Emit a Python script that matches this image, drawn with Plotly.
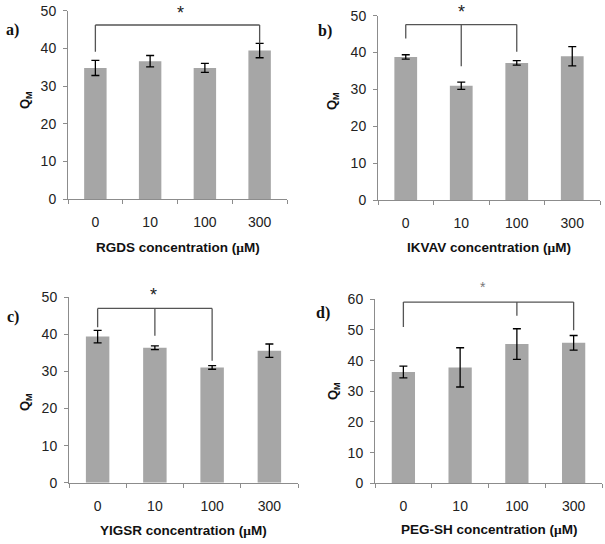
import plotly.graph_objects as go

categories = ["0", "10", "100", "300"]

rgds_mean = [34.8, 36.6, 34.8, 39.4]
rgds_err = [2.0, 1.5, 1.2, 1.9]
ikvav_mean = [38.8, 31.0, 37.2, 39.0]
ikvav_err = [0.6, 1.0, 0.6, 2.6]
yigsr_mean = [39.4, 36.4, 31.1, 35.6]
yigsr_err = [1.7, 0.5, 0.5, 1.8]
pegsh_mean = [36.3, 37.8, 45.4, 45.8]
pegsh_err = [1.9, 6.4, 5.0, 2.4]

x_titles = ["RGDS", "IKVAV", "YIGSR", "PEG-SH"]
panel_labels = ["a)", "b)", "c)", "d)"]
y_max = [50, 50, 50, 60]

# significance brackets: (bar top level, [(category index, leg bottom), ...])
brackets = [
    (46.2, [(0, 39.1), (3, 41.3)]),
    (47.6, [(0, 43.8), (1, 36.3), (2, 40.2)]),
    (47.0, [(0, 41.9), (1, 39.6), (2, 32.9)]),
    (59.1, [(0, 51.0), (2, 54.6), (3, 49.9)]),
]

W, H = 605, 544
# panel pixel boxes: x0, x1, ytop, ybottom
boxes = [
    (68, 287, 10.7, 199),
    (378, 600, 15.7, 200),
    (69, 298, 297.3, 482.7),
    (375, 602, 299.3, 483.3),
]
ytitle_px = [(25, 100), (332, 101), (25, 402), (333, 391)]
label_px = [(12, 30), (325, 31), (13, 317), (323, 313)]
xtitle_py = [247, 247, 530, 529]
star_px = [(180, 13), (461, 12), (154, 295), (483, 287)]

means = [rgds_mean, ikvav_mean, yigsr_mean, pegsh_mean]
errs = [rgds_err, ikvav_err, yigsr_err, pegsh_err]

fig = go.Figure()
bar_color = "#a6a6a6"
axis_color = "#8c8c8c"
tick_font = dict(family="Liberation Sans, Arial", size=14, color="#222")

for i in range(4):
    sfx = "" if i == 0 else str(i + 1)
    fig.add_trace(go.Bar(
        x=categories, y=means[i],
        error_y=dict(type="data", array=errs[i], color="black", thickness=1.3, width=4),
        marker=dict(color=bar_color, line=dict(width=0)),
        xaxis="x" + sfx, yaxis="y" + sfx, showlegend=False, hoverinfo="skip",
    ))
    x0, x1, yt, yb = boxes[i]
    fig.layout["xaxis" + sfx] = dict(
        domain=[x0 / W, x1 / W], anchor="y" + sfx, type="category", automargin=False,
        showline=True, linecolor=axis_color, linewidth=1,
        ticks="outside", tickson="boundaries", ticklen=4, tickcolor=axis_color,
        tickfont=tick_font, ticklabelstandoff=10, showgrid=False, fixedrange=True,
    )
    fig.layout["yaxis" + sfx] = dict(
        domain=[1 - yb / H, 1 - yt / H], anchor="x" + sfx, automargin=False,
        range=[0, y_max[i]], dtick=10, showline=True, linecolor=axis_color, linewidth=1,
        ticks="outside", ticklen=4, tickcolor=axis_color, tickfont=tick_font,
        ticklabelstandoff=4, showgrid=False, zeroline=False, fixedrange=True,
    )
    fig.add_annotation(
        x=(x0 + x1) / 2 / W, y=1 - xtitle_py[i] / H, xref="paper", yref="paper",
        text="<b>" + x_titles[i] + " concentration (<span style='font-family:Liberation Serif'>μ</span>M)</b>",
        showarrow=False, font=dict(family="Liberation Sans, Arial", size=13.5, color="#111"),
        xanchor="center", yanchor="middle",
    )
    tx, ty = ytitle_px[i]
    fig.add_annotation(
        x=tx / W, y=1 - ty / H, xref="paper", yref="paper",
        text="<b>Q<sub>M</sub></b>", textangle=-90, showarrow=False,
        font=dict(family="Liberation Sans, Arial", size=13, color="#111"),
        xanchor="center", yanchor="middle",
    )
    lx, ly = label_px[i]
    fig.add_annotation(
        x=lx / W, y=1 - ly / H, xref="paper", yref="paper",
        text="<b>" + panel_labels[i] + "</b>", showarrow=False,
        font=dict(family="Liberation Serif, Times New Roman", size=16, color="#111"),
        xanchor="center", yanchor="middle",
    )
    top, legs = brackets[i]
    xr, yr = "x" + sfx, "y" + sfx
    fig.add_shape(type="line", xref=xr, yref=yr, x0=legs[0][0], x1=legs[-1][0], y0=top, y1=top,
                  line=dict(color="#555", width=1.3))
    for ci, bot in legs:
        fig.add_shape(type="line", xref=xr, yref=yr, x0=ci, x1=ci, y0=bot, y1=top,
                      line=dict(color="#555", width=1.3))
    sx, sy = star_px[i]
    fig.add_annotation(
        x=sx / W, y=1 - sy / H, xref="paper", yref="paper", text="*", showarrow=False,
        font=dict(family="Liberation Sans, Arial", size=18 if i < 3 else 14,
                  color="#222" if i < 3 else "#777"),
        xanchor="center", yanchor="middle",
    )

fig.update_layout(
    width=W, height=H, margin=dict(l=0, r=0, t=0, b=0, autoexpand=False),
    paper_bgcolor="white", plot_bgcolor="white", bargap=0.59, hovermode=False,
)
pin = ("document.documentElement.style.margin='0';document.body.style.margin='0';"
       "document.documentElement.style.overflow='hidden';document.body.style.overflow='hidden';"
       "var g=document.querySelector('.plotly-graph-div');"
       "g.style.position='fixed';g.style.top='0px';g.style.left='0px';")
fig.write_html("out.html", config={"displayModeBar": False}, post_script=pin)
